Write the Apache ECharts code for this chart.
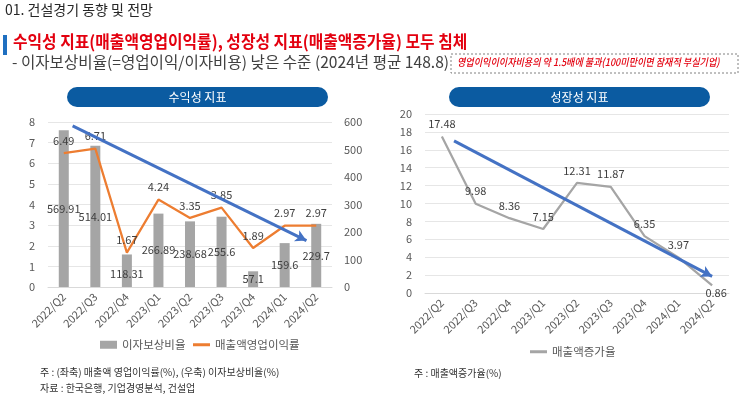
<!DOCTYPE html>
<html>
<head>
<meta charset="utf-8">
<script src="https://cdn.jsdelivr.net/npm/echarts@6/dist/echarts.min.js"></script>
<style>
  html, body { margin: 0; padding: 0; background: #fff; }
  #chart { width: 743px; height: 396px; }
</style>
</head>
<body>
<div id="chart"></div>
<script>
const quarters = ['2022/Q2', '2022/Q3', '2022/Q4', '2023/Q1', '2023/Q2', '2023/Q3', '2023/Q4', '2024/Q1', '2024/Q2']
// 이자보상비율 (right axis, %)
const interestCoverage = [569.91, 514.01, 118.31, 266.89, 238.68, 255.6, 57.1, 159.6, 229.7]
// 매출액영업이익률 (left axis, %)
const operatingMargin = [6.49, 6.71, 1.67, 4.24, 3.35, 3.85, 1.89, 2.97, 2.97]
// 매출액증가율 (%)
const salesGrowth = [17.48, 9.98, 8.36, 7.15, 12.31, 11.87, 6.35, 3.97, 0.86]
// hand drawn trend arrows [categoryIndex, value]
const profitTrend = [[0.28, 7.81], [7.69, 2.25]]
const growthTrend = [[0.36, 17.0], [8.0, 1.85]]

const FONT = '"Noto Sans CJK KR", "Noto Sans", sans-serif'
const GRAY = '#A5A5A5'
const ORANGE = '#ED7D31'
const BLUE = '#4472C4'
const PILL = '#0B5BA1'
const RED = '#E3000F'

const chart = echarts.init(document.getElementById('chart'), null, { renderer: 'canvas' })

const catAxis = (gridIndex) => ({
  type: 'category',
  gridIndex,
  data: quarters,
  boundaryGap: true,
  axisLine: { lineStyle: { color: '#D9D9D9' } },
  axisTick: { show: false },
  axisLabel: { rotate: 45, color: '#595959', fontSize: 11, fontFamily: FONT, margin: 8 }
})
const hiddenAxis = (gridIndex) => ({
  type: 'value', gridIndex, min: -0.5, max: 8.5, show: false
})
const valAxis = (gridIndex, max, interval, position) => ({
  type: 'value',
  gridIndex,
  min: 0,
  max,
  interval,
  position,
  axisLine: { show: false },
  axisTick: { show: false },
  axisLabel: { color: '#595959', fontSize: 11, fontFamily: FONT, margin: position === 'right' ? 12 : 13 },
  splitLine: { show: position !== 'right', lineStyle: { color: '#E6E6E6' } }
})
const trendSeries = (xAxisIndex, yAxisIndex, pts) => ({
  type: 'line',
  xAxisIndex,
  yAxisIndex,
  data: pts,
  silent: true,
  showSymbol: false,
  lineStyle: { opacity: 0 },
  z: 10,
  markLine: {
    silent: true,
    symbol: ['none', 'arrow'],
    symbolSize: [9, 11],
    label: { show: false },
    lineStyle: { color: BLUE, width: 3, type: 'solid' },
    data: [[{ coord: pts[0] }, { coord: pts[1] }]]
  }
})

const labelStyle = { color: '#404040', fontSize: 11, fontFamily: FONT }
const legendText = { color: '#595959', fontSize: 11.5, fontFamily: FONT }

const option = {
  animation: false,
  textStyle: { fontFamily: FONT },
  grid: [
    { left: 48, right: 411, top: 122, bottom: 109 },
    { left: 425, right: 14, top: 114, bottom: 103 }
  ],
  xAxis: [catAxis(0), hiddenAxis(0), catAxis(1), hiddenAxis(1)],
  yAxis: [
    valAxis(0, 8, 1, 'left'),
    valAxis(0, 600, 100, 'right'),
    valAxis(1, 20, 2, 'left')
  ],
  legend: [
    {
      data: ['이자보상비율'], left: 100, top: 339, padding: 0, icon: 'rect', itemWidth: 17, itemHeight: 8, itemGap: 4,
      textStyle: legendText, selectedMode: false
    },
    {
      data: ['매출액영업이익률'], left: 193, top: 339, padding: 0, icon: 'rect', itemWidth: 17, itemHeight: 3, itemGap: 4,
      textStyle: legendText, selectedMode: false
    },
    {
      data: ['매출액증가율'], left: 530, top: 346, padding: 0, icon: 'rect', itemWidth: 17, itemHeight: 3, itemGap: 4,
      textStyle: legendText, selectedMode: false
    }
  ],
  series: [
    {
      name: '이자보상비율',
      type: 'bar',
      xAxisIndex: 0,
      yAxisIndex: 1,
      barWidth: 10,
      itemStyle: { color: GRAY },
      label: { show: true, position: 'inside', ...labelStyle },
      data: interestCoverage.map((v, i) => i === 2
        ? { value: v, label: { position: 'insideBottom', distance: 8 } }
        : v)
    },
    {
      name: '매출액영업이익률',
      type: 'line',
      xAxisIndex: 0,
      yAxisIndex: 0,
      symbol: 'circle',
      symbolSize: 0,
      lineStyle: { color: ORANGE, width: 2.25 },
      itemStyle: { color: ORANGE },
      label: { show: true, position: 'top', distance: 7, ...labelStyle },
      data: operatingMargin
    },
    trendSeries(1, 0, profitTrend),
    {
      name: '매출액증가율',
      type: 'line',
      xAxisIndex: 2,
      yAxisIndex: 2,
      symbol: 'circle',
      symbolSize: 0,
      lineStyle: { color: GRAY, width: 2.25 },
      itemStyle: { color: GRAY },
      label: { show: true, position: 'top', distance: 7, ...labelStyle },
      data: salesGrowth.map((v, i) => i === salesGrowth.length - 1
        ? { value: v, label: { position: 'bottom', distance: 2, offset: [4, 0] } }
        : v)
    },
    trendSeries(3, 2, growthTrend)
  ],
  graphic: [
    { type: 'text', left: 5, top: 3, style: { text: '01. 건설경기 동향 및 전망', fontSize: 14, fill: '#262626', fontFamily: FONT } },
    { type: 'rect', shape: { x: 3, y: 35, width: 4, height: 20 }, style: { fill: '#1F6FC0' } },
    { type: 'text', x: 13, y: 33, scaleX: 0.93, style: { text: '수익성 지표(매출액영업이익률), 성장성 지표(매출액증가율) 모두 침체', fontSize: 17, fontWeight: 'bold', fill: RED, fontFamily: FONT } },
    { type: 'text', left: 12, top: 54, style: { text: '- 이자보상비율(=영업이익/이자비용) 낮은 수준 (2024년 평균 148.8)', fontSize: 15.6, fill: '#404040', fontFamily: FONT } },
    { type: 'rect', shape: { x: 451, y: 54, width: 287, height: 19 }, style: { fill: 'none', stroke: '#808080', lineWidth: 1, lineDash: [2, 2] } },
    { type: 'text', x: 457, y: 56.5, scaleX: 0.865, style: { text: '영업이익이이자비용의 약 1.5배에 불과(100미만이면 잠재적 부실기업)', fontSize: 10.5, fontWeight: 500, fontStyle: 'italic', fill: RED, fontFamily: FONT } },
    { type: 'rect', shape: { x: 67, y: 87, width: 261, height: 20, r: 10 }, style: { fill: PILL } },
    { type: 'text', x: 197.5, y: 97, style: { text: '수익성 지표', fontSize: 12, fill: '#fff', align: 'center', verticalAlign: 'middle', fontFamily: FONT } },
    { type: 'rect', shape: { x: 449, y: 87, width: 261, height: 20, r: 10 }, style: { fill: PILL } },
    { type: 'text', x: 579.5, y: 97, style: { text: '성장성 지표', fontSize: 12, fill: '#fff', align: 'center', verticalAlign: 'middle', fontFamily: FONT } },
    { type: 'text', left: 40, top: 367, style: { text: '주 : (좌축) 매출액 영업이익률(%), (우축) 이자보상비율(%)', fontSize: 10, fill: '#333', fontFamily: FONT } },
    { type: 'text', left: 40, top: 383, style: { text: '자료 : 한국은행, 기업경영분석, 건설업', fontSize: 10, fill: '#333', fontFamily: FONT } },
    { type: 'text', left: 414, top: 368, style: { text: '주 : 매출액증가율(%)', fontSize: 10, fill: '#333', fontFamily: FONT } }
  ]
}

chart.setOption(option)
window.addEventListener('resize', () => chart.resize())
</script>
</body>
</html>
